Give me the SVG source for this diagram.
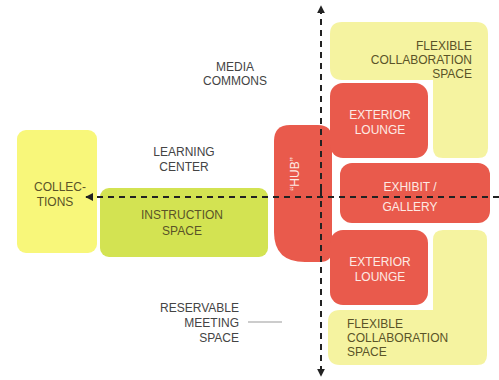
<svg xmlns="http://www.w3.org/2000/svg" width="499" height="380" viewBox="0 0 499 380">
<style>
text{font-family:"Liberation Sans",Arial,sans-serif;font-size:12px;text-anchor:middle}
.lab{fill:#444}
.dark{fill:#5a5328}
.wt{fill:#fdeae4}
.red{fill:#e95a4c}
.yel{fill:#f5f3a0}
.dash{stroke:#222;stroke-width:2;stroke-dasharray:6,5;fill:none}
</style>
<defs>
<marker id="ah" viewBox="0 0 10 10" refX="9" refY="5" markerWidth="4" markerHeight="4" orient="auto-start-reverse">
<path d="M0,0 L10,5 L0,10 z" fill="#222"/>
</marker>
</defs>
<rect width="499" height="380" fill="#fff"/>
<g id="collections">
<rect x="17" y="130" width="80" height="123" rx="9" fill="#f8f77a"/>
<text class="dark" x="60" y="191">COLLEC-</text>
<text class="dark" x="55" y="206">TIONS</text>
</g>
<g id="instruction">
<rect x="100" y="188" width="168" height="69" rx="9" fill="#d3e352"/>
<text class="dark" x="182" y="219">INSTRUCTION</text>
<text class="dark" x="182" y="235">SPACE</text>
</g>
<g id="learning-center">
<text class="lab" x="184" y="156">LEARNING</text>
<text class="lab" x="184" y="171">CENTER</text>
</g>
<g id="media-commons">
<text class="lab" x="235" y="71">MEDIA</text>
<text class="lab" x="235" y="85">COMMONS</text>
</g>
<g id="reservable">
<text class="lab" x="239" y="312" style="text-anchor:end">RESERVABLE</text>
<text class="lab" x="239" y="327" style="text-anchor:end">MEETING</text>
<text class="lab" x="239" y="342" style="text-anchor:end">SPACE</text>
<line x1="248" y1="322" x2="282" y2="322" stroke="#999" stroke-width="1"/>
</g>
<g id="hub">
<path class="red" d="M290,125 L318,125 Q332,125 332,139 L332,250 Q332,262 320,262 L305,262 Q274,262 274,232 L274,141 Q274,125 290,125 Z"/>
<text class="wt" transform="translate(299,174) rotate(-90)">“HUB”</text>
</g>
<g id="flex-top">
<path class="yel" d="M342,22 L476,22 Q488,22 488,34 L488,148 Q488,158 478,158 L443,158 Q433,158 433,148 L433,80 L342,80 Q330,80 330,68 L330,34 Q330,22 342,22 Z"/>
<text class="dark" x="472" y="50" style="text-anchor:end">FLEXIBLE</text>
<text class="dark" x="472" y="64" style="text-anchor:end">COLLABORATION</text>
<text class="dark" x="472" y="78" style="text-anchor:end">SPACE</text>
</g>
<g id="lounge-top">
<rect class="red" x="330" y="83" width="98" height="75" rx="13"/>
<text class="wt" x="380" y="119">EXTERIOR</text>
<text class="wt" x="380" y="134">LOUNGE</text>
</g>
<g id="exhibit">
<rect class="red" x="340" y="163" width="150" height="60" rx="12"/>
<text class="wt" x="410" y="191">EXHIBIT /</text>
<text class="wt" x="410" y="211">GALLERY</text>
</g>
<g id="lounge-bottom">
<rect class="red" x="330" y="230" width="98" height="75" rx="13"/>
<text class="wt" x="380" y="266">EXTERIOR</text>
<text class="wt" x="380" y="281">LOUNGE</text>
</g>
<g id="flex-bottom">
<path class="yel" d="M443,230 L477,230 Q487,230 487,240 L487,355 Q487,365 477,365 L340,365 Q328,365 328,353 L328,322 Q328,310 340,310 L433,310 L433,240 Q433,230 443,230 Z"/>
<text class="dark" x="347" y="328" style="text-anchor:start">FLEXIBLE</text>
<text class="dark" x="347" y="342" style="text-anchor:start">COLLABORATION</text>
<text class="dark" x="347" y="356" style="text-anchor:start">SPACE</text>
</g>
<g id="connectors">
<line class="dash" x1="321" y1="190" x2="321" y2="6" marker-end="url(#ah)"/>
<line class="dash" x1="321" y1="190" x2="321" y2="376" marker-end="url(#ah)"/>
<line class="dash" x1="499" y1="197" x2="86" y2="197" marker-end="url(#ah)"/>
</g>
</svg>
